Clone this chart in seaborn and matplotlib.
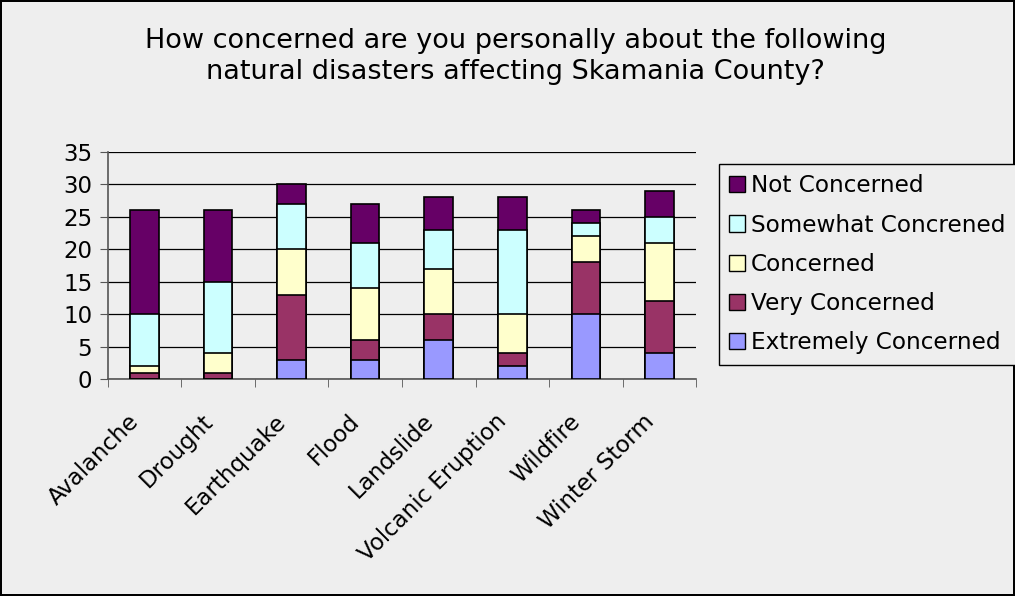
import numpy as np
import pandas as pd
import matplotlib
matplotlib.use("Agg")
import matplotlib.pyplot as plt
import matplotlib.transforms as mtrans
import seaborn as sns
from matplotlib.patches import Patch

# data
disasters = ["Avalanche", "Drought", "Earthquake", "Flood", "Landslide",
             "Volcanic Eruption", "Wildfire", "Winter Storm"]
extremely = [0, 0, 3, 3, 6, 2, 10, 4]
very = [1, 1, 10, 3, 4, 2, 8, 8]
concerned = [1, 3, 7, 8, 7, 6, 4, 9]
somewhat = [8, 11, 7, 7, 6, 13, 2, 4]
not_conc = [16, 11, 3, 6, 5, 5, 2, 4]

levels = ["Extremely Concerned", "Very Concerned", "Concerned",
          "Somewhat Concrened", "Not Concerned"]
colors = ["#9999FF", "#993366", "#FFFFCC", "#CCFFFF", "#660066"]

df = pd.DataFrame({"Disaster": disasters,
                   levels[0]: extremely, levels[1]: very, levels[2]: concerned,
                   levels[3]: somewhat, levels[4]: not_conc})
cum = df[levels].cumsum(axis=1)
cum["Disaster"] = df["Disaster"]

bg = "#EEEEEE"
sns.set_style("white")
plt.rcParams["font.family"] = ["DejaVu Sans"]
plt.rcParams["text.color"] = "black"
plt.rcParams["xtick.color"] = "black"
plt.rcParams["ytick.color"] = "black"

fig = plt.figure(figsize=(10.15, 5.96), dpi=100, facecolor=bg)
fig.patch.set_edgecolor("black")
fig.patch.set_linewidth(1.5)
ax = fig.add_axes([0.106, 0.364, 0.58, 0.381])
ax.set_facecolor(bg)

# stack by overplotting cumulative totals, top layer first
for lvl, c in reversed(list(zip(levels, colors))):
    sns.barplot(data=cum, x="Disaster", y=lvl, color=c, width=0.39,
                edgecolor="black", linewidth=1.2, saturation=1, ax=ax, zorder=3)

ax.set_ylim(0, 35)
ax.set_xlim(-0.5, len(disasters) - 0.5)
ax.set_yticks(range(0, 36, 5))
ax.yaxis.grid(True, color="black", linewidth=0.9, zorder=0)
ax.set_axisbelow(True)
for s in ["top", "right"]:
    ax.spines[s].set_visible(False)
for s in ["left", "bottom"]:
    ax.spines[s].set_color("#555555")
    ax.spines[s].set_linewidth(1.2)
ax.set_xlabel("")
ax.set_ylabel("")
ax.tick_params(axis="y", labelsize=16.5, length=6, direction="out", left=True,
               color="#555555", pad=5)
ax.set_xticks(np.arange(len(disasters)))
ax.set_xticklabels(disasters, rotation=45, ha="right", rotation_mode="anchor", fontsize=16.5)
ax.tick_params(axis="x", length=0, pad=22)
shift = mtrans.ScaledTranslation(-17 / 100, 0, fig.dpi_scale_trans)
for lab in ax.get_xticklabels():
    lab.set_transform(lab.get_transform() + shift)
ax.set_xticks(np.arange(-0.5, len(disasters)), minor=True)
ax.tick_params(axis="x", which="minor", length=6, direction="out", bottom=True, color="#555555")

fig.text(0.508, 0.905, "How concerned are you personally about the following\n"
         "natural disasters affecting Skamania County?",
         ha="center", va="center", fontsize=19.5, linespacing=1.25)

handles = [Patch(facecolor=c, edgecolor="black", label=l)
           for l, c in reversed(list(zip(levels, colors)))]
leg = fig.legend(handles=handles, loc="upper left", bbox_to_anchor=(0.708, 0.725),
                 fontsize=16.7, frameon=True, fancybox=False, framealpha=1,
                 handlelength=0.7, handleheight=0.7, handletextpad=0.25,
                 labelspacing=0.7, borderpad=0.45, borderaxespad=0)
leg.get_frame().set_edgecolor("black")
leg.get_frame().set_facecolor(bg)

fig.savefig("out.png", dpi=100, facecolor=bg, edgecolor="black")
